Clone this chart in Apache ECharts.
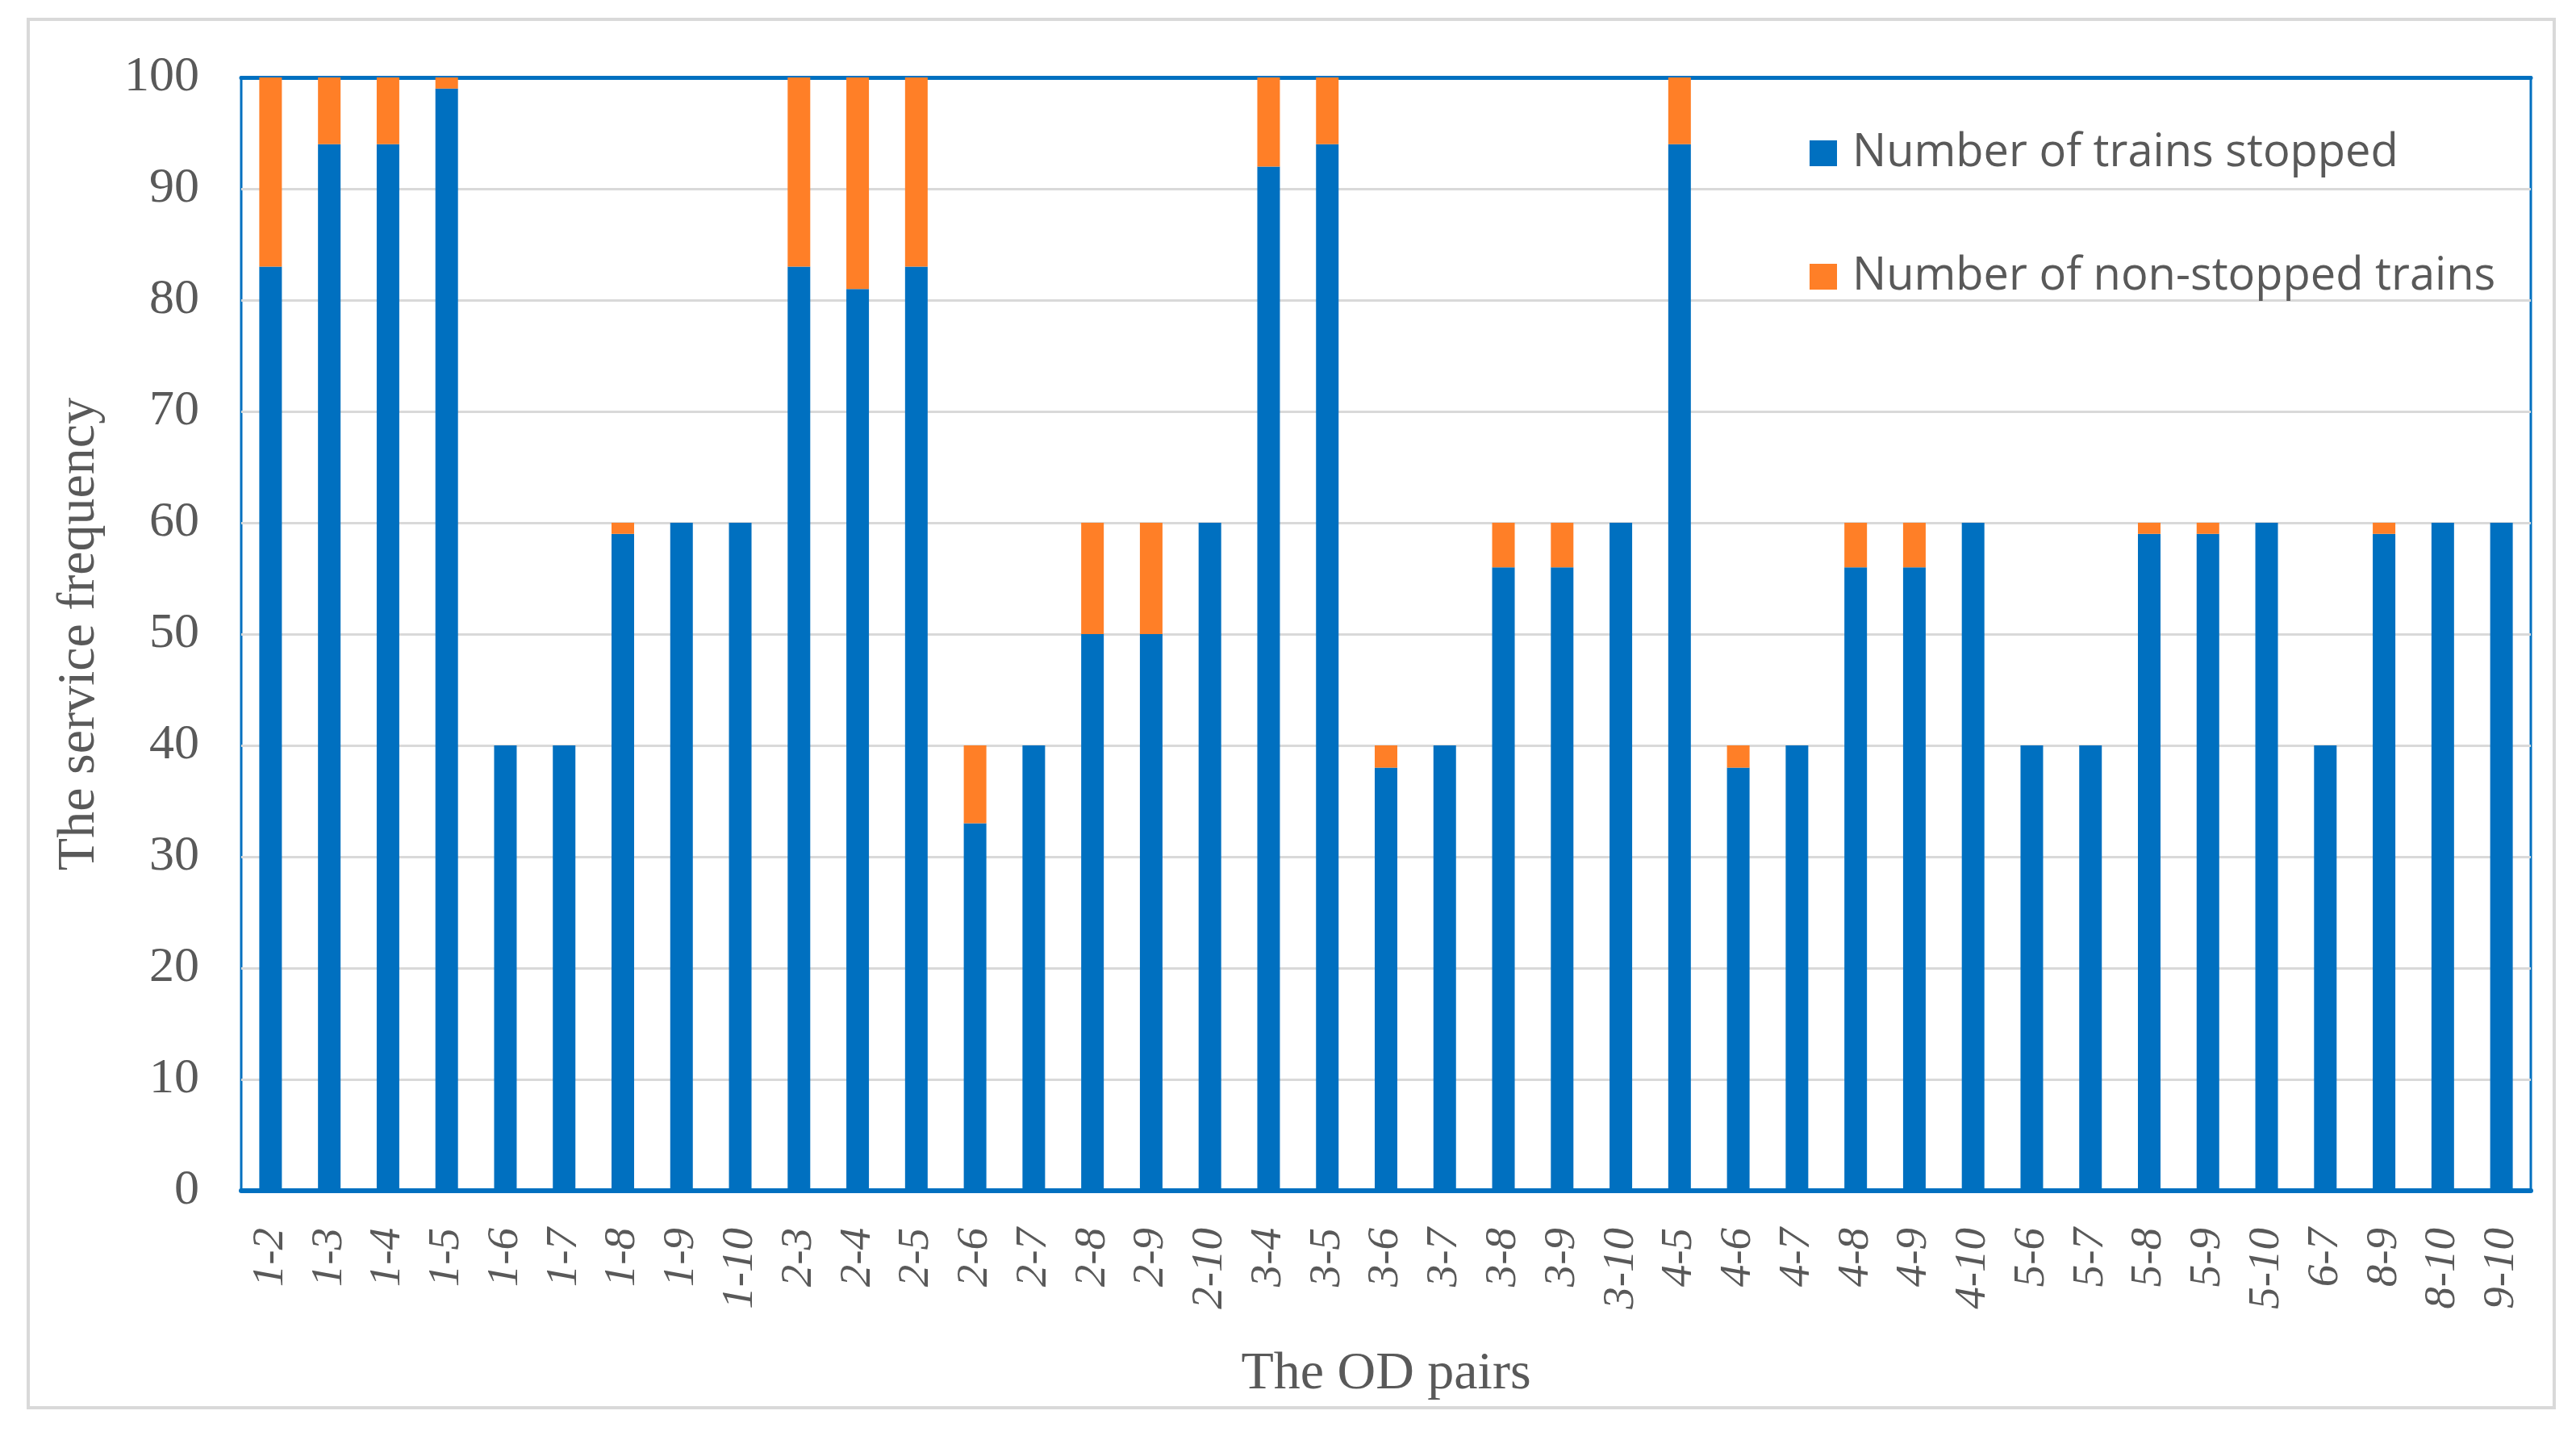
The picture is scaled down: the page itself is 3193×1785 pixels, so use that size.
<!DOCTYPE html>
<html>
<head>
<meta charset="utf-8">
<script src="https://cdn.jsdelivr.net/npm/echarts@6/dist/echarts.min.js"></script>
<style>
html,body{margin:0;padding:0;background:#fff;}
#c{width:3193px;height:1785px;}
</style>
</head>
<body>
<div id="c"></div>
<script>
var categories = ['1-2','1-3','1-4','1-5','1-6','1-7','1-8','1-9','1-10',
  '2-3','2-4','2-5','2-6','2-7','2-8','2-9','2-10',
  '3-4','3-5','3-6','3-7','3-8','3-9','3-10',
  '4-5','4-6','4-7','4-8','4-9','4-10',
  '5-6','5-7','5-8','5-9','5-10','6-7','8-9','8-10','9-10'];
var stopped = [83,94,94,99,40,40,59,60,60,
  83,81,83,33,40,50,50,60,
  92,94,38,40,56,56,60,
  94,38,40,56,56,60,
  40,40,59,59,60,40,59,60,60];
var nonStopped = [17,6,6,1,0,0,1,0,0,
  17,19,17,7,0,10,10,0,
  8,6,2,0,4,4,0,
  6,2,0,4,4,0,
  0,0,1,1,0,0,1,0,0];
var seriesNames = ['Number of trains stopped','Number of non-stopped trains'];

var chart = echarts.init(document.getElementById('c'));
var serif = 'Liberation Serif, Times New Roman, serif';
var legendFont = {fontFamily:'Open Sans, Noto Sans, sans-serif', fontSize:56, color:'#595959', lineHeight:60, padding:[0,0,0,14]};
chart.setOption({
  animation:false,
  backgroundColor:'#fff',
  color:['#0070C0','#FF7F27'],
  graphic:[{type:'rect', shape:{x:35,y:24,width:3131,height:1721}, style:{fill:'none', stroke:'#d9d9d9', lineWidth:4}, silent:true, z:-10}],
  grid:{left:299, right:3193-3137, top:96, bottom:1785-1476, show:true, borderColor:'#0070C0', borderWidth:3, backgroundColor:'transparent'},
  legend:[
    {data:[seriesNames[0]], orient:'vertical', left:2238, top:155, itemWidth:34, itemHeight:32, itemGap:6, textStyle:legendFont, icon:'rect'},
    {data:[seriesNames[1]], orient:'vertical', left:2238, top:308, itemWidth:34, itemHeight:32, itemGap:6, textStyle:legendFont, icon:'rect'}
  ],
  xAxis:[{
    type:'category', data:categories, position:'bottom',
    axisLine:{show:true, lineStyle:{color:'#0070C0', width:6}},
    axisTick:{show:false},
    axisLabel:{interval:0, rotate:90, margin:46, fontFamily:serif, fontStyle:'italic', fontSize:55, color:'#595959'},
    name:'The OD pairs', nameLocation:'middle', nameGap:195,
    nameTextStyle:{fontFamily:serif, fontSize:66, color:'#595959'}
  },{
    type:'category', data:categories, position:'top',
    axisLine:{show:true, lineStyle:{color:'#0070C0', width:5}},
    axisTick:{show:false}, axisLabel:{show:false}
  }],
  yAxis:{
    type:'value', min:0, max:100, interval:10,
    axisLine:{show:false}, axisTick:{show:false},
    splitLine:{lineStyle:{color:'#d9d9d9', width:3}},
    axisLabel:{fontFamily:serif, fontSize:62, color:'#595959', margin:52},
    name:'The service frequency', nameLocation:'middle', nameGap:167, nameRotate:90,
    nameTextStyle:{fontFamily:serif, fontSize:66, color:'#595959'}
  },
  series:[
    {name:seriesNames[0], type:'bar', stack:'total', data:stopped, barWidth:28, itemStyle:{color:'#0070C0'}},
    {name:seriesNames[1], type:'bar', stack:'total', data:nonStopped, barWidth:28, itemStyle:{color:'#FF7F27'}}
  ]
});
</script>
</body>
</html>
